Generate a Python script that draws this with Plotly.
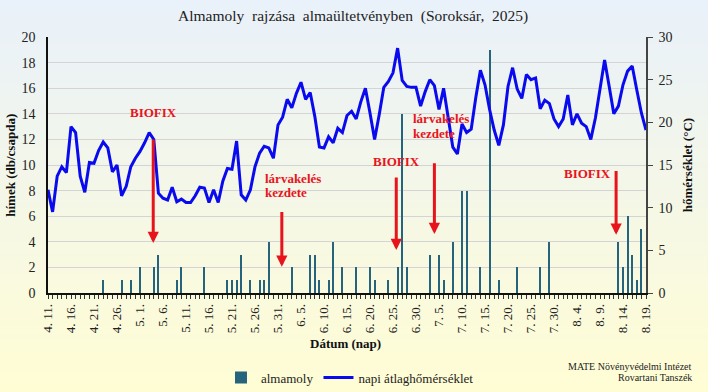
import pandas as pd
import plotly.graph_objects as go

# ---------------- data ----------------
start_date = "2025-04-11"
end_date = "2025-08-19"
dates = pd.date_range(start_date, end_date, freq="D")

temperature = [
    12.1, 9.5, 13.7, 14.8, 14.1, 19.5, 18.8, 13.7, 11.8, 15.3,
    15.2, 16.7, 17.7, 17.0, 14.2, 15.0, 11.4, 12.5, 14.8, 15.8,
    16.6, 17.6, 18.8, 18.0, 11.7, 11.1, 10.9, 12.4, 10.7, 11.0,
    10.6, 10.6, 11.4, 12.4, 12.3, 10.6, 12.1, 10.6, 13.1, 14.6,
    14.5, 17.8, 11.5, 10.9, 12.1, 14.8, 16.4, 17.2, 17.0, 15.8,
    19.7, 20.6, 22.7, 21.7, 23.4, 24.7, 22.7, 23.5, 20.7, 17.1,
    17.0, 18.3, 17.6, 19.3, 18.8, 20.8, 21.3, 20.4, 22.4, 24.0,
    21.1, 18.0, 20.9, 24.1, 24.8, 25.8, 28.7, 24.9, 24.2, 24.1,
    24.1, 21.9, 23.6, 25.0, 24.3, 21.5, 24.0, 20.4, 17.1, 16.3,
    19.8, 18.8, 19.2, 22.9, 26.1, 24.4, 21.5, 19.1, 17.3, 19.7,
    24.2, 26.4, 23.9, 22.8, 25.6, 25.0, 25.2, 21.6, 22.6, 22.2,
    20.4, 19.5, 20.4, 23.2, 19.7, 21.0, 19.9, 19.5, 18.0, 20.5,
    23.8, 27.3, 24.2, 21.0, 21.9, 24.4, 26.0, 26.6, 23.8, 21.1,
    19.1,
]

moth_dates = [
    "2025-04-23", "2025-04-27", "2025-04-29", "2025-05-01", "2025-05-04",
    "2025-05-05", "2025-05-09", "2025-05-10", "2025-05-15", "2025-05-20",
    "2025-05-21", "2025-05-22", "2025-05-23", "2025-05-25", "2025-05-27",
    "2025-05-28", "2025-05-29", "2025-06-03", "2025-06-07", "2025-06-08",
    "2025-06-09", "2025-06-11", "2025-06-12", "2025-06-14", "2025-06-17",
    "2025-06-20", "2025-06-21", "2025-06-24", "2025-06-26", "2025-06-27",
    "2025-06-28", "2025-07-03", "2025-07-05", "2025-07-06", "2025-07-08",
    "2025-07-10", "2025-07-11", "2025-07-14", "2025-07-16", "2025-07-18",
    "2025-07-22", "2025-07-27", "2025-07-29", "2025-08-13", "2025-08-14",
    "2025-08-15", "2025-08-16", "2025-08-17", "2025-08-18",
]
moth_counts = [
    1, 1, 1, 2, 2,
    3, 1, 2, 2, 1,
    1, 1, 3, 1, 1,
    1, 4, 2, 3, 3,
    1, 1, 4, 2, 2,
    2, 1, 1, 2, 14,
    2, 3, 3, 1, 4,
    8, 8, 2, 19, 1,
    2, 2, 4, 4, 2,
    6, 3, 1, 5,
]

tick_dates = pd.date_range(start_date, end_date, freq="5D")
tick_labels = [
    "4. 11.", "4. 16.", "4. 21.", "4. 26.", "5. 1.", "5. 6.", "5. 11.",
    "5. 16.", "5. 21.", "5. 26.", "5. 31.", "6. 5.", "6. 10.", "6. 15.",
    "6. 20.", "6. 25.", "6. 30.", "7. 5.", "7. 10.", "7. 15.", "7. 20.",
    "7. 25.", "7. 30.", "8. 4.", "8. 9.", "8. 14.", "8. 19.",
]

# event markers: arrow date, arrow tip value, arrow tail value
event_dates = ["2025-05-03 21:00", "2025-05-31 20:00", "2025-06-25 17:00",
               "2025-07-04 00:00", "2025-08-12 12:00"]
event_tip = [3.9, 2.05, 3.35, 4.6, 4.55]
event_tail = [12.1, 6.45, 9.15, 10.25, 9.65]

title_text = "Almamoly  rajzása  almaültetvényben  (Soroksár,  2025)"
y_left_title = "hímek (db/csapda)"
y_right_title = "hőmérséklet (°C)"
x_title = "Dátum (nap)"
series_names = ["almamoly", "napi átlaghőmérséklet"]
credit_lines = ["MATE Növényvédelmi Intézet", "Rovartani Tanszék"]

# ---------------- figure ----------------
SERIF = "Liberation Serif, Times New Roman, serif"
RED = "#E8141B"
DAY_MS = 86400000

fig = go.Figure()
fig.add_trace(go.Bar(
    x=moth_dates, y=moth_counts, name=series_names[0],
    marker=dict(color="#26647E", line=dict(width=0)),
    width=0.45 * DAY_MS, yaxis="y",
))
fig.add_trace(go.Scatter(
    x=dates, y=temperature, name=series_names[1], mode="lines",
    line=dict(color="#0A0AEE", width=3), yaxis="y2",
))

# background gradient (light blue top -> light yellow bottom)
top = (233, 241, 250)
bot = (255, 253, 212)
n = 60
y_top, y_bot = 1.15, -0.39
shapes = []
for i in range(n):
    f = i / (n - 1)
    c = tuple(round(top[k] + (bot[k] - top[k]) * f) for k in range(3))
    y0 = y_top + (y_bot - y_top) * i / n
    y1 = y_top + (y_bot - y_top) * (i + 1) / n
    shapes.append(dict(type="rect", xref="paper", yref="paper",
                       x0=-0.1, x1=1.12, y0=y1, y1=y0 + 0.002,
                       fillcolor="rgb(%d,%d,%d)" % c, line=dict(width=0),
                       layer="below"))

annotations = []
for d, tip, tail in zip(event_dates, event_tip, event_tail):
    annotations.append(dict(
        x=d, y=tip, xref="x", yref="y", ax=d, ay=tail, axref="x", ayref="y",
        text="", showarrow=True, arrowhead=2, arrowsize=0.75, arrowwidth=3,
        arrowcolor=RED, standoff=0,
    ))
bold_red = dict(family=SERIF, size=13, color=RED)
annotations += [
    dict(x="2025-05-03 21:00", y=14.1, xref="x", yref="y", text="<b>BIOFIX</b>",
         showarrow=False, font=bold_red, xanchor="center", yanchor="middle"),
    dict(x="2025-05-27 16:00", y=8.95, xref="x", yref="y", text="<b>lárvakelés</b>",
         showarrow=False, font=bold_red, xanchor="left", yanchor="middle"),
    dict(x="2025-05-27 16:00", y=7.85, xref="x", yref="y", text="<b>kezdete</b>",
         showarrow=False, font=bold_red, xanchor="left", yanchor="middle"),
    dict(x="2025-06-25 20:00", y=10.25, xref="x", yref="y", text="<b>BIOFIX</b>",
         showarrow=False, font=bold_red, xanchor="center", yanchor="middle"),
    dict(x="2025-06-29 00:00", y=13.65, xref="x", yref="y", text="<b>lárvakelés</b>",
         showarrow=False, font=bold_red, xanchor="left", yanchor="middle"),
    dict(x="2025-06-29 00:00", y=12.5, xref="x", yref="y", text="<b>kezdete</b>",
         showarrow=False, font=bold_red, xanchor="left", yanchor="middle"),
    dict(x="2025-08-06 05:00", y=9.3, xref="x", yref="y", text="<b>BIOFIX</b>",
         showarrow=False, font=bold_red, xanchor="center", yanchor="middle"),
]
annotations += [
    dict(x=0.51, y=1.083, xref="paper", yref="paper", text=title_text,
         showarrow=False, font=dict(family=SERIF, size=15.5, color="#222"),
         xanchor="center", yanchor="middle"),
    dict(x=-0.064, y=0.5, xref="paper", yref="paper", text="<b>%s</b>" % y_left_title,
         showarrow=False, textangle=-90, font=dict(family=SERIF, size=13, color="#111"),
         xanchor="center", yanchor="middle"),
    dict(x=1.069, y=0.5, xref="paper", yref="paper", text="<b>%s</b>" % y_right_title,
         showarrow=False, textangle=-90, font=dict(family=SERIF, size=13, color="#111"),
         xanchor="center", yanchor="middle"),
    dict(x=0.498, y=-0.196, xref="paper", yref="paper", text="<b>%s</b>" % x_title,
         showarrow=False, font=dict(family=SERIF, size=13, color="#111"),
         xanchor="center", yanchor="middle"),
    dict(x=1.08, y=-0.288, xref="paper", yref="paper", text=credit_lines[0],
         showarrow=False, font=dict(family=SERIF, size=10, color="#222"),
         xanchor="right", yanchor="middle"),
    dict(x=1.08, y=-0.33, xref="paper", yref="paper", text=credit_lines[1],
         showarrow=False, font=dict(family=SERIF, size=10, color="#222"),
         xanchor="right", yanchor="middle"),
]

fig.update_layout(
    width=708, height=392,
    margin=dict(l=48, r=62, t=37, b=99, autoexpand=False),
    paper_bgcolor="rgb(246,248,236)",
    plot_bgcolor="rgba(0,0,0,0)",
    font=dict(family=SERIF, size=13, color="#222"),
    showlegend=True,
    legend=dict(orientation="h", x=0.505, xanchor="center", y=-0.33, yanchor="middle",
                bgcolor="rgba(0,0,0,0)", font=dict(family=SERIF, size=13, color="#222"),
                itemwidth=30, tracegroupgap=0),
    bargap=0,
    shapes=shapes,
    annotations=annotations,
    xaxis=dict(
        type="date", range=[start_date, end_date],
        tickmode="array", tickvals=tick_dates, ticktext=tick_labels,
        tickangle=-90, tickfont=dict(family=SERIF, size=13, color="#222"),
        ticks="outside", ticklen=4, tickcolor="#333", tickwidth=1,
        minor=dict(tickmode="linear", tick0=start_date, dtick=DAY_MS,
                   ticks="outside", ticklen=4, tickcolor="#333", tickwidth=1,
                   showgrid=False),
        showline=True, linecolor="#111", linewidth=1.5,
        showgrid=False, zeroline=False, fixedrange=True,
    ),
    yaxis=dict(
        range=[0, 20], dtick=2, tick0=0,
        tickfont=dict(family=SERIF, size=14, color="#222"),
        showgrid=True, gridcolor="#D4D4D4", gridwidth=1,
        showline=True, linecolor="#111", linewidth=1.5,
        ticks="", ticklabelstandoff=8, zeroline=False, fixedrange=True,
    ),
    yaxis2=dict(
        range=[0, 30], dtick=5, tick0=0, overlaying="y", side="right",
        tickfont=dict(family=SERIF, size=14, color="#222"),
        showgrid=False, showline=True, linecolor="#444", linewidth=1.5,
        ticks="outside", ticklen=5, tickcolor="#444", ticklabelstandoff=3,
        zeroline=False, fixedrange=True,
    ),
)

fig.write_html("out.html", config={"displayModeBar": False},
               post_script="document.body.style.margin='0';")
